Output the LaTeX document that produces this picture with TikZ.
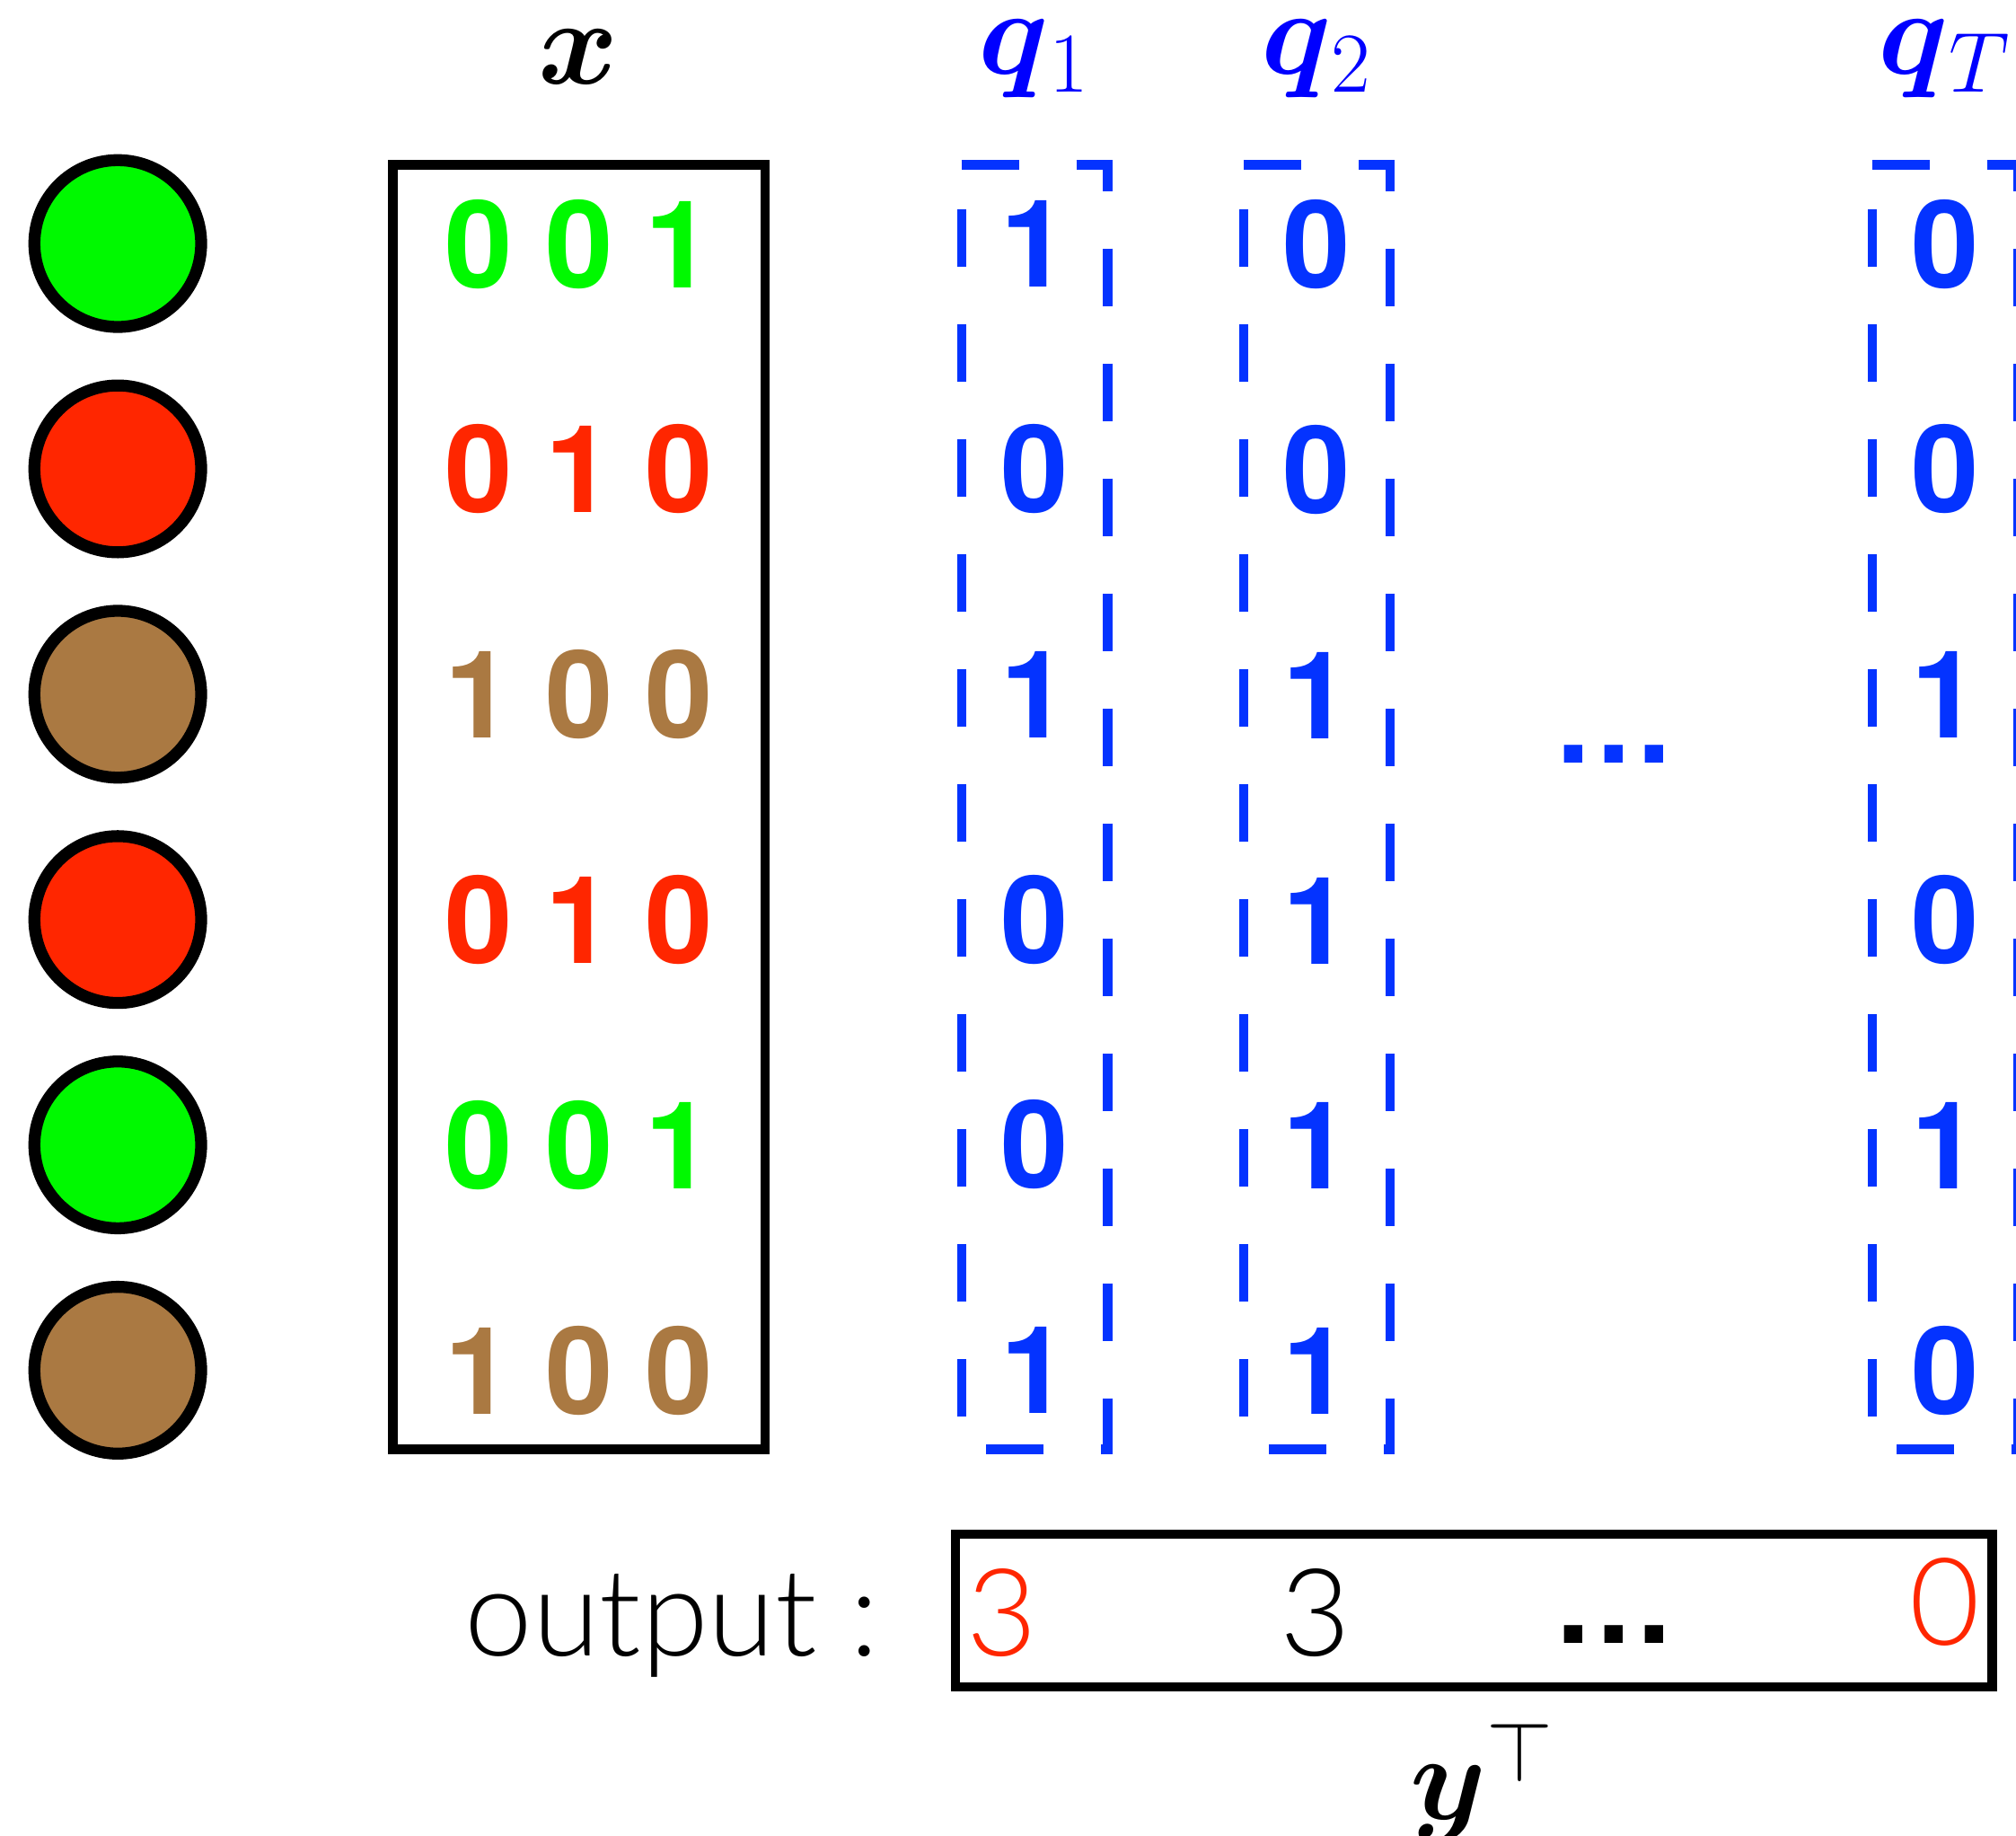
\RequirePackage{fix-cm}
\documentclass[tikz,border=0pt]{standalone}
\usepackage[no-math]{fontspec}
\setmainfont{TeX Gyre Heros}
\newfontfamily\lightfont{Lato Light}
\usepackage{amsmath}
\usetikzlibrary{positioning}
\definecolor{grnBit}{RGB}{0,249,0}
\definecolor{redBit}{RGB}{255,38,0}
\definecolor{brnBit}{RGB}{170,121,66}
\definecolor{bluQ}{RGB}{4,51,255}
% three bits of a one-hot code, evenly spaced
\newcommand{\bits}[3]{#1\hspace{7.16pt}#2\hspace{7.16pt}#3}
\newcommand{\moredots}{.\hspace{1.45pt}.\hspace{1.45pt}.}
\tikzset{
  ball/.style={circle, draw=black, line width=0.93mm, minimum size=13mm,
    inner sep=0pt},
  bits/.style={font=\fontsize{27}{49.95}\selectfont\bfseries, align=center,
    inner sep=0pt},
  xframe/.style={rectangle, draw=black, line width=0.73mm, inner sep=0pt},
  qcol/.style={rectangle, minimum width=11.4mm, minimum height=100.1mm,
    inner sep=0pt, outer sep=0pt, text=bluQ},
  qdash/.style={draw=bluQ, line width=0.72mm,
    dash pattern=on 4.48mm off 4.48mm},
  lbl/.style={font=\fontsize{27}{30}\selectfont, inner sep=0pt, anchor=base},
  outtxt/.style={font=\fontsize{27}{30}\lightfont, inner sep=0pt, anchor=base}
}

\begin{document}
\begin{tikzpicture}[x=1mm, y=1mm, node distance=3.63mm]
  \useasboundingbox (0,0) rectangle (157.15,-143.01);

  % samples
  \node[ball, fill=grnBit] (c1) at (9.18,-18.98) {};
  \node[ball, fill=redBit, below=of c1] (c2) {};
  \node[ball, fill=brnBit, below=of c2] (c3) {};
  \node[ball, fill=redBit, below=of c3] (c4) {};
  \node[ball, fill=grnBit, below=of c4] (c5) {};
  \node[ball, fill=brnBit, below=of c5] (c6) {};

  % one-hot input
  \node[xframe, bits, minimum width=29mm, minimum height=100.1mm] (xbox)
    at (45.13,-62.9)
    {\textcolor{grnBit}{\bits001}\\ \textcolor{redBit}{\bits010}\\
     \textcolor{brnBit}{\bits100}\\ \textcolor{redBit}{\bits010}\\
     \textcolor{grnBit}{\bits001}\\ \textcolor{brnBit}{\bits100}};
  \node[lbl] (xlbl) at (45.06,-6.55) {$\boldsymbol{x}$};

  % binary questions
  \node[qcol, bits] (q1) at (80.65,-62.9) {1\\0\\1\\0\\0\\1};
  \node[qcol, bits] (q2) at (102.66,-62.9) {0\\0\\1\\1\\1\\1};
  \node[qcol, bits] (qT) at (151.63,-62.9) {0\\0\\1\\0\\1\\0};
  \draw[qdash] (q1.north west) -- (q1.north east) -- (q1.south east) -- (q1.south west) -- cycle;
  \draw[qdash] (q2.north west) -- (q2.north east) -- (q2.south east) -- (q2.south west) -- cycle;
  \draw[qdash] (qT.north west) -- (qT.north east) -- (qT.south east) -- (qT.south west) -- cycle;
  \node[bits, text=bluQ, anchor=base] (qdots) at (125.79,-59.43) {\moredots};
  \node[lbl, text=blue] (q1lbl) at (80.65,-5.75) {$\boldsymbol{q}{}_1$};
  \node[lbl, text=blue] (q2lbl) at (102.66,-5.75) {$\boldsymbol{q}{}_2$};
  \node[lbl, text=blue] (qTlbl) at (151.63,-5.75) {$\boldsymbol{q}{}_T$};

  % answers
  \node[xframe, minimum width=80.83mm, minimum height=11.91mm] (ybox)
    at (114.89,-125.5) {};
  \node[outtxt, anchor=base east] (outlbl) at (68.6,-129.05) {output :};
  \node[outtxt, text=redBit] (y1) at (78.12,-129.05) {3};
  \node[outtxt] (y2) at (102.55,-129.05) {3};
  \node[bits, anchor=base] (ydots) at (125.79,-128.06) {\moredots};
  \node[outtxt, text=redBit] (yT) at (151.62,-128.2) {0};
  \node[lbl] (ylbl) at (115.6,-141.8)
    {$\boldsymbol{y}^{\raisebox{-0.5mm}{$\scriptstyle\top$}}$};
\end{tikzpicture}
\end{document}
